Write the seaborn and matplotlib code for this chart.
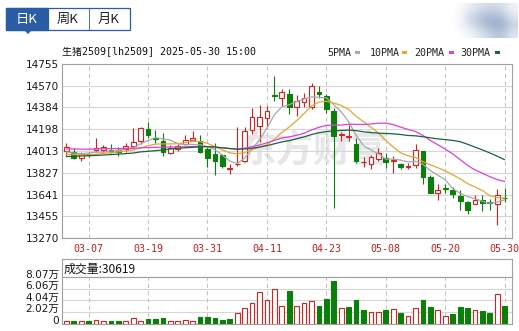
import numpy as np
import pandas as pd
import matplotlib
matplotlib.use("Agg")
import matplotlib.pyplot as plt
import seaborn as sns
from matplotlib.patches import Rectangle, Polygon
from matplotlib.transforms import ScaledTranslation

# ---------------- data ----------------
dates = ["03-04", "03-05", "03-06", "03-07", "03-10", "03-11", "03-12", "03-13", "03-14",
         "03-17", "03-18", "03-19", "03-20", "03-21", "03-24", "03-25", "03-26", "03-27",
         "03-28", "03-31", "04-01", "04-02", "04-03", "04-07", "04-08", "04-09", "04-10",
         "04-11", "04-14", "04-15", "04-16", "04-17", "04-18", "04-21", "04-22", "04-23",
         "04-24", "04-25", "04-28", "04-29", "04-30", "05-06", "05-07", "05-08", "05-09",
         "05-12", "05-13", "05-14", "05-15", "05-16", "05-19", "05-20", "05-21", "05-22",
         "05-23", "05-26", "05-27", "05-28", "05-29", "05-30"]

opens = [14013, 14007, 13953, 13975, 14020, 14018, 14024, 14021, 14030, 14053,
         14095, 14204, 14126, 14101, 13993, 14030, 14075, 14104, 14098, 14027,
         13990, 13978, 13861, 13898, 13930, 14193, 14227, 14292, 14486, 14464,
         14501, 14392, 14427, 14392, 14518, 14484, 14355, 14150, 14132, 14075,
         13915, 13904, 13944, 13953, 13928, 13904, 13879, 13893, 14015, 13793,
         13658, 13692, 13676, 13624, 13578, 13564, 13596, 13573, 13564, 13614]
highs = [14084, 14041, 14007, 14000, 14127, 14064, 14075, 14050, 14081, 14212,
         14221, 14264, 14193, 14164, 14064, 14072, 14150, 14184, 14150, 14050,
         14084, 13990, 13898, 14218, 14221, 14378, 14401, 14398, 14650, 14544,
         14544, 14492, 14509, 14590, 14564, 14498, 14378, 14178, 14235, 14127,
         13961, 13978, 14041, 13992, 13972, 13913, 13913, 14070, 14015, 13807,
         13730, 13733, 13707, 13678, 13584, 13633, 13636, 13601, 13687, 13698]
lows = [13973, 13944, 13927, 13960, 14007, 14001, 13993, 13970, 14001, 14030,
        14073, 14124, 14078, 13970, 13984, 14010, 14064, 14098, 13993, 13878,
        13807, 13870, 13815, 13884, 13915, 14155, 14093, 14212, 14435, 14398,
        14327, 14315, 14392, 14370, 14464, 14335, 13530, 14101, 14101, 13907,
        13873, 13858, 13927, 13870, 13821, 13858, 13855, 13870, 13735, 13650,
        13593, 13658, 13613, 13513, 13478, 13556, 13498, 13513, 13384, 13573]
closes = [14047, 13955, 13987, 13985, 14040, 14047, 14007, 14001, 14058, 14092,
          14210, 14153, 14118, 14007, 14041, 14058, 14104, 14127, 14007, 13950,
          13927, 13881, 13866, 13904, 14184, 14298, 14298, 14350, 14480, 14518,
          14387, 14438, 14464, 14564, 14498, 14370, 14141, 14158, 14141, 13927,
          13921, 13961, 13992, 13915, 13933, 13873, 13884, 14021, 13787, 13656,
          13681, 13688, 13650, 13584, 13513, 13596, 13573, 13567, 13636, 13610]
volumes = [5200, 4000, 4000, 4000, 6900, 5200, 4000, 4000, 5200, 8700,
           5200, 7500, 7500, 9200, 4000, 4000, 6900, 5200, 11000, 11000,
           9200, 5800, 7500, 19000, 26500, 36400, 55400, 40400, 59400, 31200,
           56000, 31200, 36400, 39800, 30000, 42100, 73300, 27700, 28300, 40400,
           23100, 20800, 20800, 23100, 26000, 19000, 13800, 27700, 40400, 28300,
           23100, 13800, 16200, 28300, 26500, 23100, 21400, 18500, 51900, 30619]

ma5 = [14005, 13995, 13990, 13995, 14003, 14003, 14013, 14016, 14031, 14041,
       14074, 14103, 14126, 14116, 14106, 14075, 14066, 14067, 14067, 14049,
       14023, 13978, 13926, 13906, 13952, 14027, 14110, 14207, 14322, 14389,
       14407, 14435, 14457, 14474, 14470, 14467, 14407, 14346, 14262, 14147,
       14058, 14022, 13988, 13943, 13944, 13935, 13919, 13925, 13900, 13844,
       13806, 13767, 13692, 13652, 13623, 13606, 13583, 13567, 13577, 13596]
ma10 = [13985, 13982, 13980, 13980, 13985, 13992, 13998, 14005, 14012, 14022,
        14038, 14058, 14071, 14073, 14073, 14075, 14084, 14097, 14092, 14078,
        14049, 14022, 13997, 13987, 14001, 14025, 14044, 14067, 14114, 14171,
        14217, 14272, 14332, 14398, 14430, 14437, 14421, 14402, 14368, 14309,
        14262, 14215, 14167, 14102, 14046, 13996, 13971, 13957, 13921, 13894,
        13870, 13843, 13809, 13776, 13734, 13706, 13675, 13630, 13614, 13610]
ma20 = [14030, 14030, 14028, 14028, 14030, 14032, 14032, 14033, 14035, 14036,
        14040, 14042, 14044, 14045, 14046, 14047, 14048, 14050, 14050, 14050,
        14044, 14040, 14034, 14030, 14037, 14050, 14064, 14082, 14103, 14124,
        14133, 14147, 14164, 14192, 14215, 14231, 14233, 14234, 14241, 14240,
        14239, 14243, 14250, 14250, 14238, 14216, 14196, 14179, 14145, 14102,
        14066, 14029, 13988, 13939, 13890, 13851, 13823, 13793, 13768, 13752]
ma30 = [13965, 13968, 13970, 13972, 13975, 13978, 13982, 13986, 13990, 13995,
        14005, 14010, 14015, 14022, 14030, 14036, 14040, 14044, 14048, 14050,
        14047, 14040, 14033, 14028, 14030, 14036, 14046, 14058, 14074, 14090,
        14101, 14117, 14133, 14153, 14168, 14179, 14183, 14188, 14191, 14186,
        14176, 14170, 14165, 14162, 14159, 14153, 14145, 14142, 14134, 14125,
        14116, 14110, 14103, 14092, 14070, 14046, 14022, 13996, 13968, 13938]

price_ticks = [13270, 13455, 13641, 13827, 14013, 14198, 14384, 14570, 14755]
date_ticks = ["03-07", "03-19", "03-31", "04-11", "04-23", "05-08", "05-20", "05-30"]
vol_ticks = [0, 20200, 40400, 60600, 80700]
vol_tick_labels = ["0", "2.02万", "4.04万", "6.06万", "8.07万"]
ma_names = ["5PMA", "10PMA", "20PMA", "30PMA"]
title_text = "生猪2509[lh2509] 2025-05-30 15:00"
tabs = ["日K", "周K", "月K"]

# ---------------- style ----------------
sns.set_theme(style="white")
plt.rcParams["font.family"] = ["DejaVu Sans", "Noto Sans CJK SC"]
plt.rcParams["axes.unicode_minus"] = False

RED = "#d9201c"
GREEN = "#0a7f0a"
MA_COLORS = ["#a8a8a8", "#e8a532", "#e03ee0", "#17663a"]
SPINE = "#a0a0a0"
GRID = "#d6d6d6"
BLUE = "#2b5ca6"

W, H = 519, 331
fig = plt.figure(figsize=(W / 100, H / 100), dpi=100)
fig.patch.set_facecolor("white")


def fx(px):
    return px / W


def fy(py):
    return 1 - py / H


n = len(dates)
xs = np.arange(n)
o = np.array(opens, float)
c = np.array(closes, float)
hi = np.array(highs, float)
lo = np.array(lows, float)
up = c >= o
XL = (-0.58, 59.98)

# ---------------- price panel ----------------
ax = fig.add_axes([fx(62), fy(238), 450 / W, 174 / H])
ax.set_facecolor("white")

# watermark
ax.text(0.56, 0.5, "东方财富", transform=ax.transAxes, ha="center", va="center",
        fontsize=27, fontweight="bold", color="#e6e6eb", zorder=0,
        family=["Noto Sans CJK SC"])

cols = [RED if u else GREEN for u in up]
ax.vlines(xs, lo, hi, colors=cols, linewidth=0.8, zorder=3)
ax.bar(xs, np.abs(c - o) + 1.0, bottom=np.minimum(o, c) - 0.5, width=0.64,
       facecolor=["white" if u else GREEN for u in up], edgecolor=cols,
       linewidth=0.8, zorder=4)

df = pd.DataFrame({"x": xs, "ma5": ma5, "ma10": ma10, "ma20": ma20, "ma30": ma30})
for key, colr in zip(["ma5", "ma10", "ma20", "ma30"], MA_COLORS):
    sns.lineplot(data=df, x="x", y=key, ax=ax, color=colr, linewidth=0.9,
                 legend=False, zorder=5)

ax.set_xlim(*XL)
ax.set_ylim(13270, 14755)
ax.set_yticks(price_ticks)
ax.set_yticklabels([str(v) for v in price_ticks])
pos = [dates.index(d) for d in date_ticks]
ax.set_xticks(pos)
ax.set_xticklabels(date_ticks)
ax.set_xlabel("")
ax.set_ylabel("")
ax.grid(axis="y", color=GRID, linewidth=0.8, linestyle="-", zorder=1)
ax.grid(axis="x", visible=False)
for p in pos:
    ax.axvline(p, color="#c4c4c4", linewidth=0.75, linestyle=(0, (4, 3)), zorder=1)
for s in ax.spines.values():
    s.set_color(SPINE)
    s.set_linewidth(0.8)
ax.tick_params(axis="y", length=0, pad=2.2, labelsize=7.6, labelcolor="#1a1a1a")
ax.tick_params(axis="x", length=0, pad=4.0, labelsize=7.2, labelcolor="#c81e1e")
for lab in ax.get_xticklabels():
    lab.set_family(["DejaVu Sans Mono"])

# ---------------- volume header ----------------
axh = fig.add_axes([fx(62), fy(277), 450 / W, 18 / H])
axh.set_xticks([])
axh.set_yticks([])
axh.set_facecolor("white")
for s in axh.spines.values():
    s.set_color(SPINE)
    s.set_linewidth(0.8)
axh.text(0.003, 0.45, "成交量:" + str(volumes[-1]), transform=axh.transAxes,
         ha="left", va="center", fontsize=8.6, color="#111111",
         family=["Noto Sans CJK SC"])

# ---------------- volume panel ----------------
axv = fig.add_axes([fx(62), fy(323.5), 450 / W, 46.5 / H])
axv.set_facecolor("white")
prev = np.concatenate([[o[0]], c[:-1]])
vup = c >= prev
vcols = [RED if u else GREEN for u in vup]
axv.bar(xs, volumes, width=0.64, facecolor=["white" if u else GREEN for u in vup],
        edgecolor=vcols, linewidth=0.8, zorder=4)
axv.set_xlim(*XL)
axv.set_ylim(0, 80700)
axv.set_yticks(vol_ticks)
axv.set_yticklabels(vol_tick_labels)
axv.set_xticks([])
axv.grid(axis="y", color=GRID, linewidth=0.8, linestyle="-", zorder=1)
axv.grid(axis="x", visible=False)
for p in pos:
    axv.axvline(p, color="#c4c4c4", linewidth=0.75, linestyle=(0, (4, 3)), zorder=1)
for s in axv.spines.values():
    s.set_color(SPINE)
    s.set_linewidth(0.8)
axv.tick_params(axis="y", length=0, pad=2.2, labelsize=7.6, labelcolor="#1a1a1a")
off = ScaledTranslation(0, 3.5 / 100, fig.dpi_scale_trans)
for lab in axv.get_yticklabels():
    lab.set_transform(lab.get_transform() + off)

# ---------------- header: tabs, title, legend ----------------
fig.patches.append(Rectangle((fx(6), fy(29.5)), 123.5 / W, 21 / H, transform=fig.transFigure,
                             facecolor="white", edgecolor=BLUE, linewidth=0.9))
fig.patches.append(Rectangle((fx(6), fy(29.5)), 42 / W, 21 / H, transform=fig.transFigure,
                             facecolor=BLUE, edgecolor=BLUE, linewidth=0.9))
fig.patches.append(Rectangle((fx(88.5), fy(29.5)), 0.001, 21 / H, transform=fig.transFigure,
                             facecolor=BLUE, edgecolor=BLUE, linewidth=0.6))
fig.patches.append(Polygon([(fx(24), fy(29.5)), (fx(32), fy(29.5)), (fx(28), fy(33.5))],
                           closed=True, transform=fig.transFigure, facecolor=BLUE,
                           edgecolor=BLUE, linewidth=0.5))
for t, cx, colr in zip(tabs, [26.5, 68, 108.5], ["white", "#222222", "#222222"]):
    fig.text(fx(cx), fy(19), t, ha="center", va="center", fontsize=9.5, color=colr,
             family=["Noto Sans CJK SC"])

fig.text(fx(62), fy(51.5), title_text, ha="left", va="center", fontsize=7.2,
         color="#111111", family=["DejaVu Sans Mono", "Noto Sans CJK SC"])

leg_x = [327, 369.5, 414.5, 460.5]
dash_x = [355, 402, 448.7, 494.5]
for name, lx, dx, colr in zip(ma_names, leg_x, dash_x, MA_COLORS):
    fig.text(fx(lx), fy(52.5), name, ha="left", va="center", fontsize=7.2,
             color="#222222", family=["DejaVu Sans Mono"])
    fig.patches.append(Rectangle((fx(dx), fy(53.6)), 5.3 / W, 2.2 / H,
                                 transform=fig.transFigure, facecolor=colr,
                                 edgecolor="none"))

# blurred image at top right (soft gradient block)
axb = fig.add_axes([fx(452), fy(38), 66 / W, 35 / H])
axb.axis("off")
blur = np.array([
    [[1.00, 1.00, 1.00], [0.93, 0.95, 0.97], [0.86, 0.89, 0.93], [0.82, 0.86, 0.91], [0.84, 0.87, 0.92], [0.95, 0.96, 0.98]],
    [[1.00, 1.00, 1.00], [0.84, 0.87, 0.92], [0.72, 0.77, 0.85], [0.66, 0.72, 0.82], [0.70, 0.75, 0.84], [0.90, 0.92, 0.95]],
    [[1.00, 1.00, 1.00], [0.86, 0.89, 0.93], [0.74, 0.79, 0.86], [0.62, 0.69, 0.80], [0.58, 0.66, 0.78], [0.78, 0.82, 0.89]],
    [[1.00, 1.00, 1.00], [0.97, 0.98, 0.99], [0.88, 0.91, 0.94], [0.78, 0.83, 0.89], [0.70, 0.76, 0.85], [0.90, 0.92, 0.95]],
])
axb.imshow(blur, interpolation="bicubic", aspect="auto")

fig.savefig("out.png", dpi=100, facecolor="white")
